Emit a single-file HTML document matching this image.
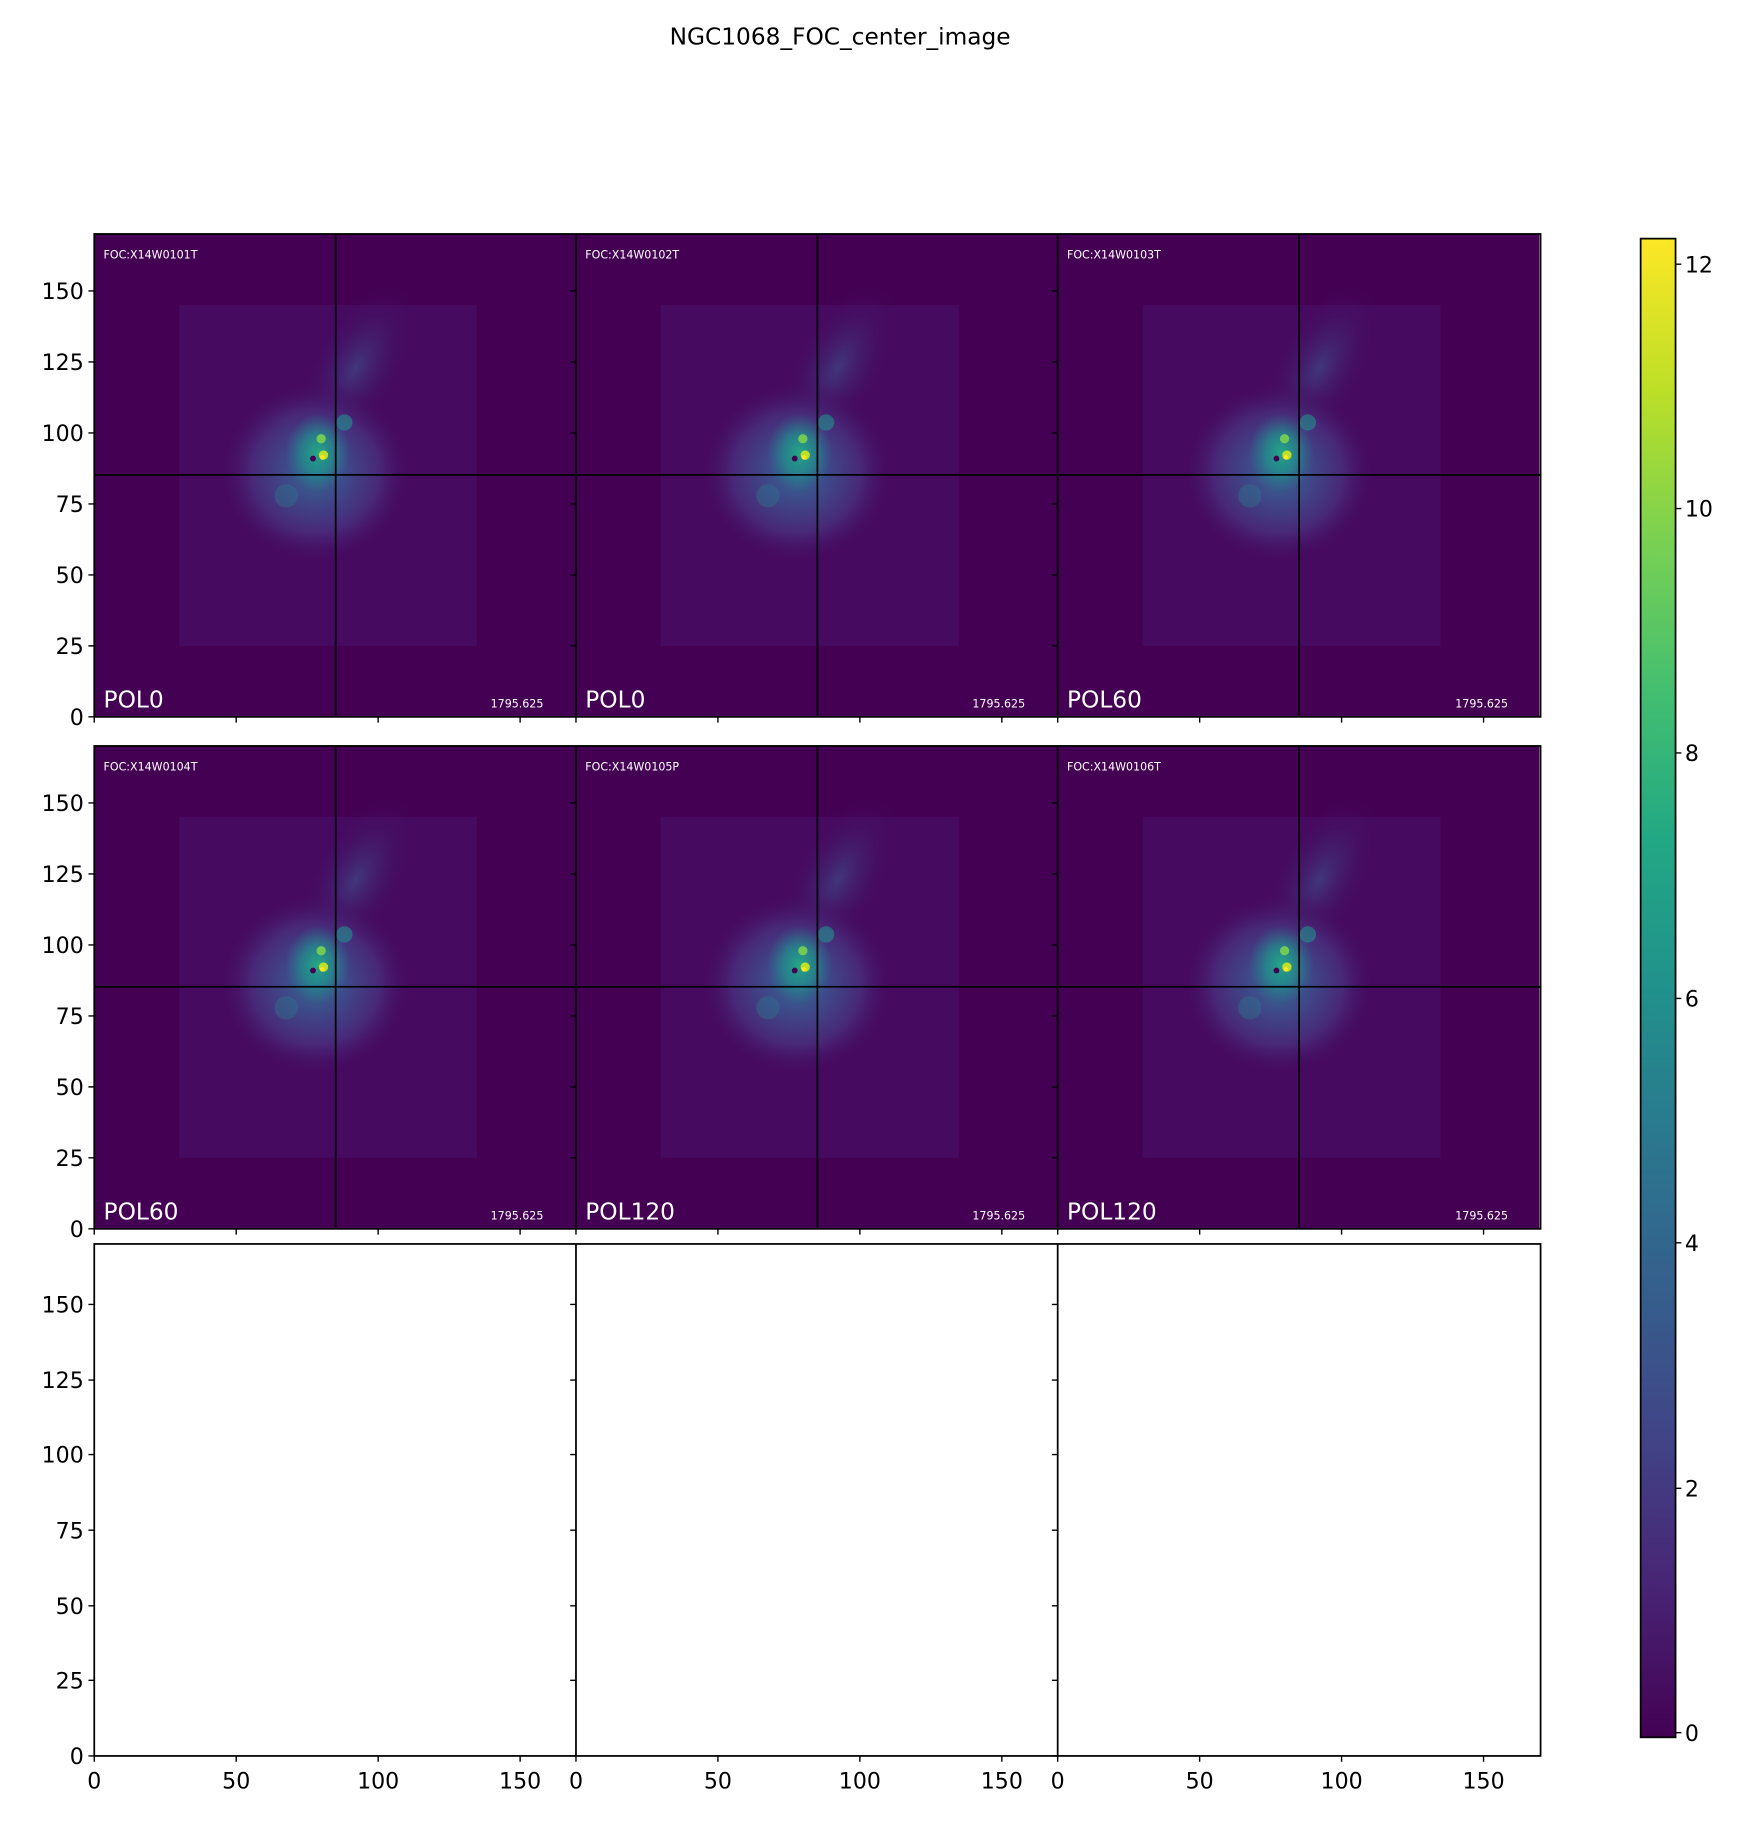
<!DOCTYPE html>
<html><head><meta charset="utf-8"><style>html,body{margin:0;padding:0;background:#fff}svg{display:block}</style></head>
<body>
<svg width="1757" height="1827" viewBox="0 0 1510 1570" xmlns="http://www.w3.org/2000/svg" font-family="'DejaVu Sans','Liberation Sans',sans-serif">
<defs>
<linearGradient id="vir" x1="0" y1="1" x2="0" y2="0">
<stop offset="0" stop-color="#440154"/><stop offset="0.1" stop-color="#482475"/><stop offset="0.2" stop-color="#414487"/><stop offset="0.3" stop-color="#355f8d"/><stop offset="0.4" stop-color="#2a788e"/><stop offset="0.5" stop-color="#21918c"/><stop offset="0.6" stop-color="#22a884"/><stop offset="0.7" stop-color="#44bf70"/><stop offset="0.8" stop-color="#7ad151"/><stop offset="0.9" stop-color="#bddf26"/><stop offset="1" stop-color="#fde725"/>
</linearGradient>
<radialGradient id="glow"><stop offset="0" stop-color="#31688e"/><stop offset="0.3" stop-color="#3e4a89"/><stop offset="0.65" stop-color="#482878"/><stop offset="1" stop-color="#46085c" stop-opacity="0"/></radialGradient>
<radialGradient id="arm"><stop offset="0" stop-color="#3e4a89" stop-opacity="0.7"/><stop offset="1" stop-color="#46085c" stop-opacity="0"/></radialGradient>
<radialGradient id="core"><stop offset="0" stop-color="#22a884"/><stop offset="0.5" stop-color="#21918c" stop-opacity="0.7"/><stop offset="1" stop-color="#2a788e" stop-opacity="0"/></radialGradient>
<clipPath id="pc"><rect x="0" y="0" width="414" height="415"/></clipPath>
<g id="img" clip-path="url(#pc)">
<rect x="0" y="0" width="414" height="415" fill="#440154"/>
<rect x="73" y="61" width="256" height="293" fill="#47106a" opacity="0.6"/>
<ellipse cx="225" cy="115" rx="40" ry="80" fill="url(#arm)" transform="rotate(30 225 115)"/>
<ellipse cx="190" cy="205" rx="85" ry="80" fill="url(#glow)"/>
<ellipse cx="192" cy="188" rx="28" ry="34" fill="url(#core)"/>
<circle cx="215" cy="162" r="7" fill="#21918c" opacity="0.6"/>
<circle cx="165" cy="225" r="10" fill="#2a788e" opacity="0.4"/>
<circle cx="195" cy="176" r="4" fill="#7ad151" opacity="0.9"/>
<circle cx="197" cy="190" r="4" fill="#bddf26"/>
<circle cx="196" cy="192" r="2" fill="#fde725"/>
<circle cx="188" cy="193" r="2.5" fill="#440154"/>
</g>
</defs>

<text x="722" y="38" font-size="20" text-anchor="middle" fill="#000">NGC1068_FOC_center_image</text>

<g transform="translate(81,201)"><use href="#img"/></g>
<g transform="translate(495,201)"><use href="#img"/></g>
<g transform="translate(909,201)"><use href="#img"/></g>
<g transform="translate(81,641)"><use href="#img"/></g>
<g transform="translate(495,641)"><use href="#img"/></g>
<g transform="translate(909,641)"><use href="#img"/></g>

<g stroke="#000" stroke-width="1.5" fill="none">
<line x1="288.5" y1="201" x2="288.5" y2="616"/><line x1="81" y1="408" x2="495" y2="408"/>
<line x1="702.5" y1="201" x2="702.5" y2="616"/><line x1="495" y1="408" x2="909" y2="408"/>
<line x1="1116.5" y1="201" x2="1116.5" y2="616"/><line x1="909" y1="408" x2="1324" y2="408"/>
<line x1="288.5" y1="641" x2="288.5" y2="1056"/><line x1="81" y1="848" x2="495" y2="848"/>
<line x1="702.5" y1="641" x2="702.5" y2="1056"/><line x1="495" y1="848" x2="909" y2="848"/>
<line x1="1116.5" y1="641" x2="1116.5" y2="1056"/><line x1="909" y1="848" x2="1324" y2="848"/>
<rect x="81" y="201" width="1243" height="415"/>
<line x1="495" y1="201" x2="495" y2="616"/><line x1="909" y1="201" x2="909" y2="616"/>
<rect x="81" y="641" width="1243" height="415"/>
<line x1="495" y1="641" x2="495" y2="1056"/><line x1="909" y1="641" x2="909" y2="1056"/>
<rect x="81" y="1069" width="1243" height="440"/>
<line x1="495" y1="1069" x2="495" y2="1509"/><line x1="909" y1="1069" x2="909" y2="1509"/>
<rect x="1410" y="205" width="30" height="1288" fill="url(#vir)"/>
</g>

<g stroke="#000" stroke-width="1.2">
<path d="M81 616v5M203 616v5M325 616v5M447 616v5M495 616v5M617 616v5M739 616v5M861 616v5M909 616v5M1031 616v5M1153 616v5M1275 616v5"/>
<path d="M81 1056v5M203 1056v5M325 1056v5M447 1056v5M495 1056v5M617 1056v5M739 1056v5M861 1056v5M909 1056v5M1031 1056v5M1153 1056v5M1275 1056v5"/>
<path d="M81 1509v5M203 1509v5M325 1509v5M447 1509v5M495 1509v5M617 1509v5M739 1509v5M861 1509v5M909 1509v5M1031 1509v5M1153 1509v5M1275 1509v5"/>
<path d="M76 616h5M76 555h5M76 494h5M76 433h5M76 372h5M76 311h5M76 250h5"/>
<path d="M490 616h5M490 555h5M490 494h5M490 433h5M490 372h5M490 311h5M490 250h5M904 616h5M904 555h5M904 494h5M904 433h5M904 372h5M904 311h5M904 250h5"/>
<path d="M76 1056h5M76 995h5M76 934h5M76 873h5M76 812h5M76 751h5M76 690h5"/>
<path d="M490 1056h5M490 995h5M490 934h5M490 873h5M490 812h5M490 751h5M490 690h5M904 1056h5M904 995h5M904 934h5M904 873h5M904 812h5M904 751h5M904 690h5"/>
<path d="M76 1509h5M76 1444h5M76 1380h5M76 1315h5M76 1250h5M76 1186h5M76 1121h5"/>
<path d="M490 1509h5M490 1444h5M490 1380h5M490 1315h5M490 1250h5M490 1186h5M490 1121h5M904 1509h5M904 1444h5M904 1380h5M904 1315h5M904 1250h5M904 1186h5M904 1121h5"/>
<path d="M1440 1489h5M1440 1279h5M1440 1068h5M1440 858h5M1440 647h5M1440 437h5M1440 227h5"/>
</g>

<g font-size="19" fill="#000" text-anchor="end">
<text x="72" y="623">0</text><text x="72" y="562">25</text><text x="72" y="501">50</text><text x="72" y="440">75</text><text x="72" y="379">100</text><text x="72" y="318">125</text><text x="72" y="257">150</text>
<text x="72" y="1063">0</text><text x="72" y="1002">25</text><text x="72" y="941">50</text><text x="72" y="880">75</text><text x="72" y="819">100</text><text x="72" y="758">125</text><text x="72" y="697">150</text>
<text x="72" y="1516">0</text><text x="72" y="1451">25</text><text x="72" y="1387">50</text><text x="72" y="1322">75</text><text x="72" y="1257">100</text><text x="72" y="1193">125</text><text x="72" y="1128">150</text>
</g>
<g font-size="19" fill="#000" text-anchor="middle">
<text x="81" y="1537">0</text><text x="203" y="1537">50</text><text x="325" y="1537">100</text><text x="447" y="1537">150</text>
<text x="495" y="1537">0</text><text x="617" y="1537">50</text><text x="739" y="1537">100</text><text x="861" y="1537">150</text>
<text x="909" y="1537">0</text><text x="1031" y="1537">50</text><text x="1153" y="1537">100</text><text x="1275" y="1537">150</text>
</g>
<g font-size="19" fill="#000">
<text x="1448" y="1496">0</text><text x="1448" y="1286">2</text><text x="1448" y="1075">4</text><text x="1448" y="865">6</text><text x="1448" y="654">8</text><text x="1448" y="444">10</text><text x="1448" y="234">12</text>
</g>

<g fill="#fff">
<g font-size="9.5">
<text x="89" y="222">FOC:X14W0101T</text><text x="503" y="222">FOC:X14W0102T</text><text x="917" y="222">FOC:X14W0103T</text>
<text x="89" y="662">FOC:X14W0104T</text><text x="503" y="662">FOC:X14W0105P</text><text x="917" y="662">FOC:X14W0106T</text>
</g>
<g font-size="9.5" text-anchor="end">
<text x="467" y="608">1795.625</text><text x="881" y="608">1795.625</text><text x="1296" y="608">1795.625</text>
<text x="467" y="1048">1795.625</text><text x="881" y="1048">1795.625</text><text x="1296" y="1048">1795.625</text>
</g>
<g font-size="20">
<text x="89" y="608">POL0</text><text x="503" y="608">POL0</text><text x="917" y="608">POL60</text>
<text x="89" y="1048">POL60</text><text x="503" y="1048">POL120</text><text x="917" y="1048">POL120</text>
</g>
</g>
</svg>
</body></html>
